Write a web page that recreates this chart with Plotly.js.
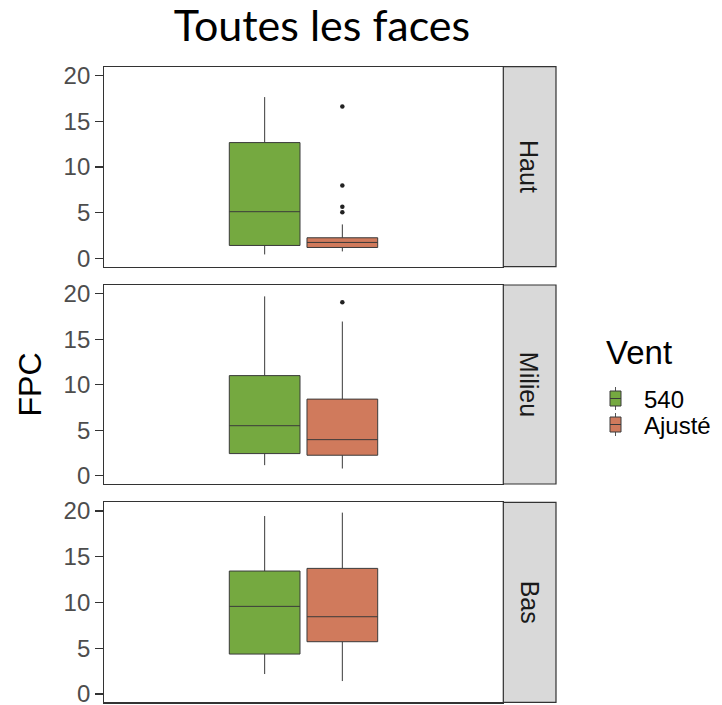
<!DOCTYPE html>
<html>
<head>
<meta charset="utf-8">
<script src="https://cdn.plot.ly/plotly-3.0.1.min.js"></script>
<style>html,body{margin:0;padding:0;background:#fff;}#chart{width:722px;height:705px;}</style>
</head>
<body>
<div id="chart"></div>
<script>
// ---------- data ----------
const facets = ['Haut', 'Milieu', 'Bas'];
const seriesNames = ['540', 'Ajusté'];
const seriesColors = ['#75A940', '#D07A5C'];

// series "540"
const q1_540     = [1.42, 2.44, 4.37];
const median_540 = [5.11, 5.50, 9.58];
const q3_540     = [12.66, 11.00, 13.44];
const lower_540  = [0.44, 1.17, 2.19];
const upper_540  = [17.63, 19.70, 19.45];
const outliers_540 = [[], [], []];

// series "Ajusté"
const q1_aj     = [1.20, 2.26, 5.72];
const median_aj = [1.75, 3.97, 8.45];
const q3_aj     = [2.26, 8.42, 13.73];
const lower_aj  = [0.77, 0.80, 1.42];
const upper_aj  = [3.72, 16.94, 19.82];
const outliers_aj = [[16.6, 7.96, 5.66, 5.04], [19.05], []];

const yTicks = [0, 5, 10, 15, 20];

// ---------- layout helpers ----------
const W = 722, H = 705;
const px = v => v / W;
const py = v => 1 - v / H;
const DODGE = 0.117, BOX_W = 0.213;
const xDomain = [px(104.3), px(502.7)];
const yDomains = [[py(266.7), py(66.7)], [py(484), py(285)], [py(702.3), py(502.3)]];
const stripX = [px(503.3), px(556)];
const AX = '#333333';
const FONT = 'Liberation Sans, Arial, sans-serif';

const stats = [
  {q1: q1_540, median: median_540, q3: q3_540, lo: lower_540, hi: upper_540, out: outliers_540},
  {q1: q1_aj, median: median_aj, q3: q3_aj, lo: lower_aj, hi: upper_aj, out: outliers_aj}
];

const traces = [];
const layout = {
  width: W, height: H,
  margin: {l: 0, r: 0, t: 0, b: 0},
  paper_bgcolor: '#fff', plot_bgcolor: '#fff',
  showlegend: false,
  title: {text: 'Toutes les faces', font: {family: 'Lato, sans-serif', size: 43, color: '#000'},
          x: px(322), xanchor: 'center', y: py(26), yanchor: 'middle', yref: 'container'},
  shapes: [], annotations: []
};

facets.forEach((f, i) => {
  const xa = i === 0 ? 'x' : 'x' + (i + 1);
  const ya = i === 0 ? 'y' : 'y' + (i + 1);
  const xKey = i === 0 ? 'xaxis' : 'xaxis' + (i + 1);
  const yKey = i === 0 ? 'yaxis' : 'yaxis' + (i + 1);
  layout[xKey] = {domain: xDomain, anchor: ya, range: [-0.6, 0.6], showticklabels: false,
    ticks: '', showgrid: false, zeroline: false, showline: true, mirror: true,
    linecolor: AX, linewidth: 1.2, fixedrange: true};
  layout[yKey] = {domain: yDomains[i], anchor: xa, range: [-0.9, 20.95], tickvals: yTicks,
    ticktext: yTicks.map(String), ticks: 'outside', ticklen: 8, tickwidth: 1.2, tickcolor: AX,
    tickfont: {family: FONT, size: 24, color: '#4D4D4D'}, showgrid: false, zeroline: false,
    showline: true, mirror: true, linecolor: AX, linewidth: 1.2, fixedrange: true, automargin: false,
    ticklabeloverflow: 'allow'};

  stats.forEach((s, k) => {
    const pos = k === 0 ? -DODGE : DODGE;
    traces.push({
      type: 'box', name: seriesNames[k], xaxis: xa, yaxis: ya,
      x: [pos], q1: [s.q1[i]], median: [s.median[i]], q3: [s.q3[i]],
      lowerfence: [s.lo[i]], upperfence: [s.hi[i]],
      width: BOX_W, whiskerwidth: 0, fillcolor: seriesColors[k], line: {color: '#3A3A3A', width: 1},
      boxpoints: false, showlegend: false, hoverinfo: 'skip'
    });
    if (s.out[i].length) {
      traces.push({
        type: 'scatter', mode: 'markers', xaxis: xa, yaxis: ya,
        x: s.out[i].map(() => pos), y: s.out[i],
        marker: {color: '#222', size: 4.5}, showlegend: false, hoverinfo: 'skip'
      });
    }
  });

  // facet strip
  layout.shapes.push({type: 'rect', xref: 'paper', yref: ya + ' domain', x0: stripX[0], x1: stripX[1],
    y0: 0, y1: 1, fillcolor: '#D9D9D9', line: {color: AX, width: 1.2}, layer: 'above'});
  layout.annotations.push({text: f, xref: 'paper', yref: ya + ' domain', x: (stripX[0] + stripX[1]) / 2,
    y: 0.5, xanchor: 'center', yanchor: 'middle', textangle: 90, showarrow: false,
    font: {family: FONT, size: 25, color: '#1A1A1A'}});
});

// y axis title
layout.annotations.push({text: 'FPC', xref: 'paper', yref: 'paper', x: px(30), y: py(384.5),
  xanchor: 'center', yanchor: 'middle', textangle: -90, showarrow: false,
  font: {family: FONT, size: 32, color: '#000'}});

// legend (drawn manually to match ggplot key spacing)
layout.annotations.push({text: 'Vent', xref: 'paper', yref: 'paper', x: px(604), y: py(353),
  xanchor: 'left', yanchor: 'middle', showarrow: false, font: {family: FONT, size: 33, color: '#000'}});
const keyCenters = [398.5, 424.5];
seriesNames.forEach((n, k) => {
  const cy = keyCenters[k];
  layout.shapes.push({type: 'line', xref: 'paper', yref: 'paper', x0: px(615.5), x1: px(615.5),
    y0: py(cy - 11.5), y1: py(cy + 11.5), line: {color: '#555', width: 1}});
  layout.shapes.push({type: 'rect', xref: 'paper', yref: 'paper', x0: px(610), x1: px(621),
    y0: py(cy - 7.5), y1: py(cy + 7.5), fillcolor: seriesColors[k], line: {color: '#3A3A3A', width: 1}});
  layout.shapes.push({type: 'line', xref: 'paper', yref: 'paper', x0: px(610), x1: px(621),
    y0: py(cy), y1: py(cy), line: {color: '#3A3A3A', width: 1}});
  layout.annotations.push({text: n, xref: 'paper', yref: 'paper', x: px(642), y: py(cy + 1),
    xanchor: 'left', yanchor: 'middle', showarrow: false,
    font: {family: FONT, size: 24, color: '#000'}});
});

Plotly.newPlot('chart', traces, layout, {displayModeBar: false, staticPlot: true});
</script>
</body>
</html>
